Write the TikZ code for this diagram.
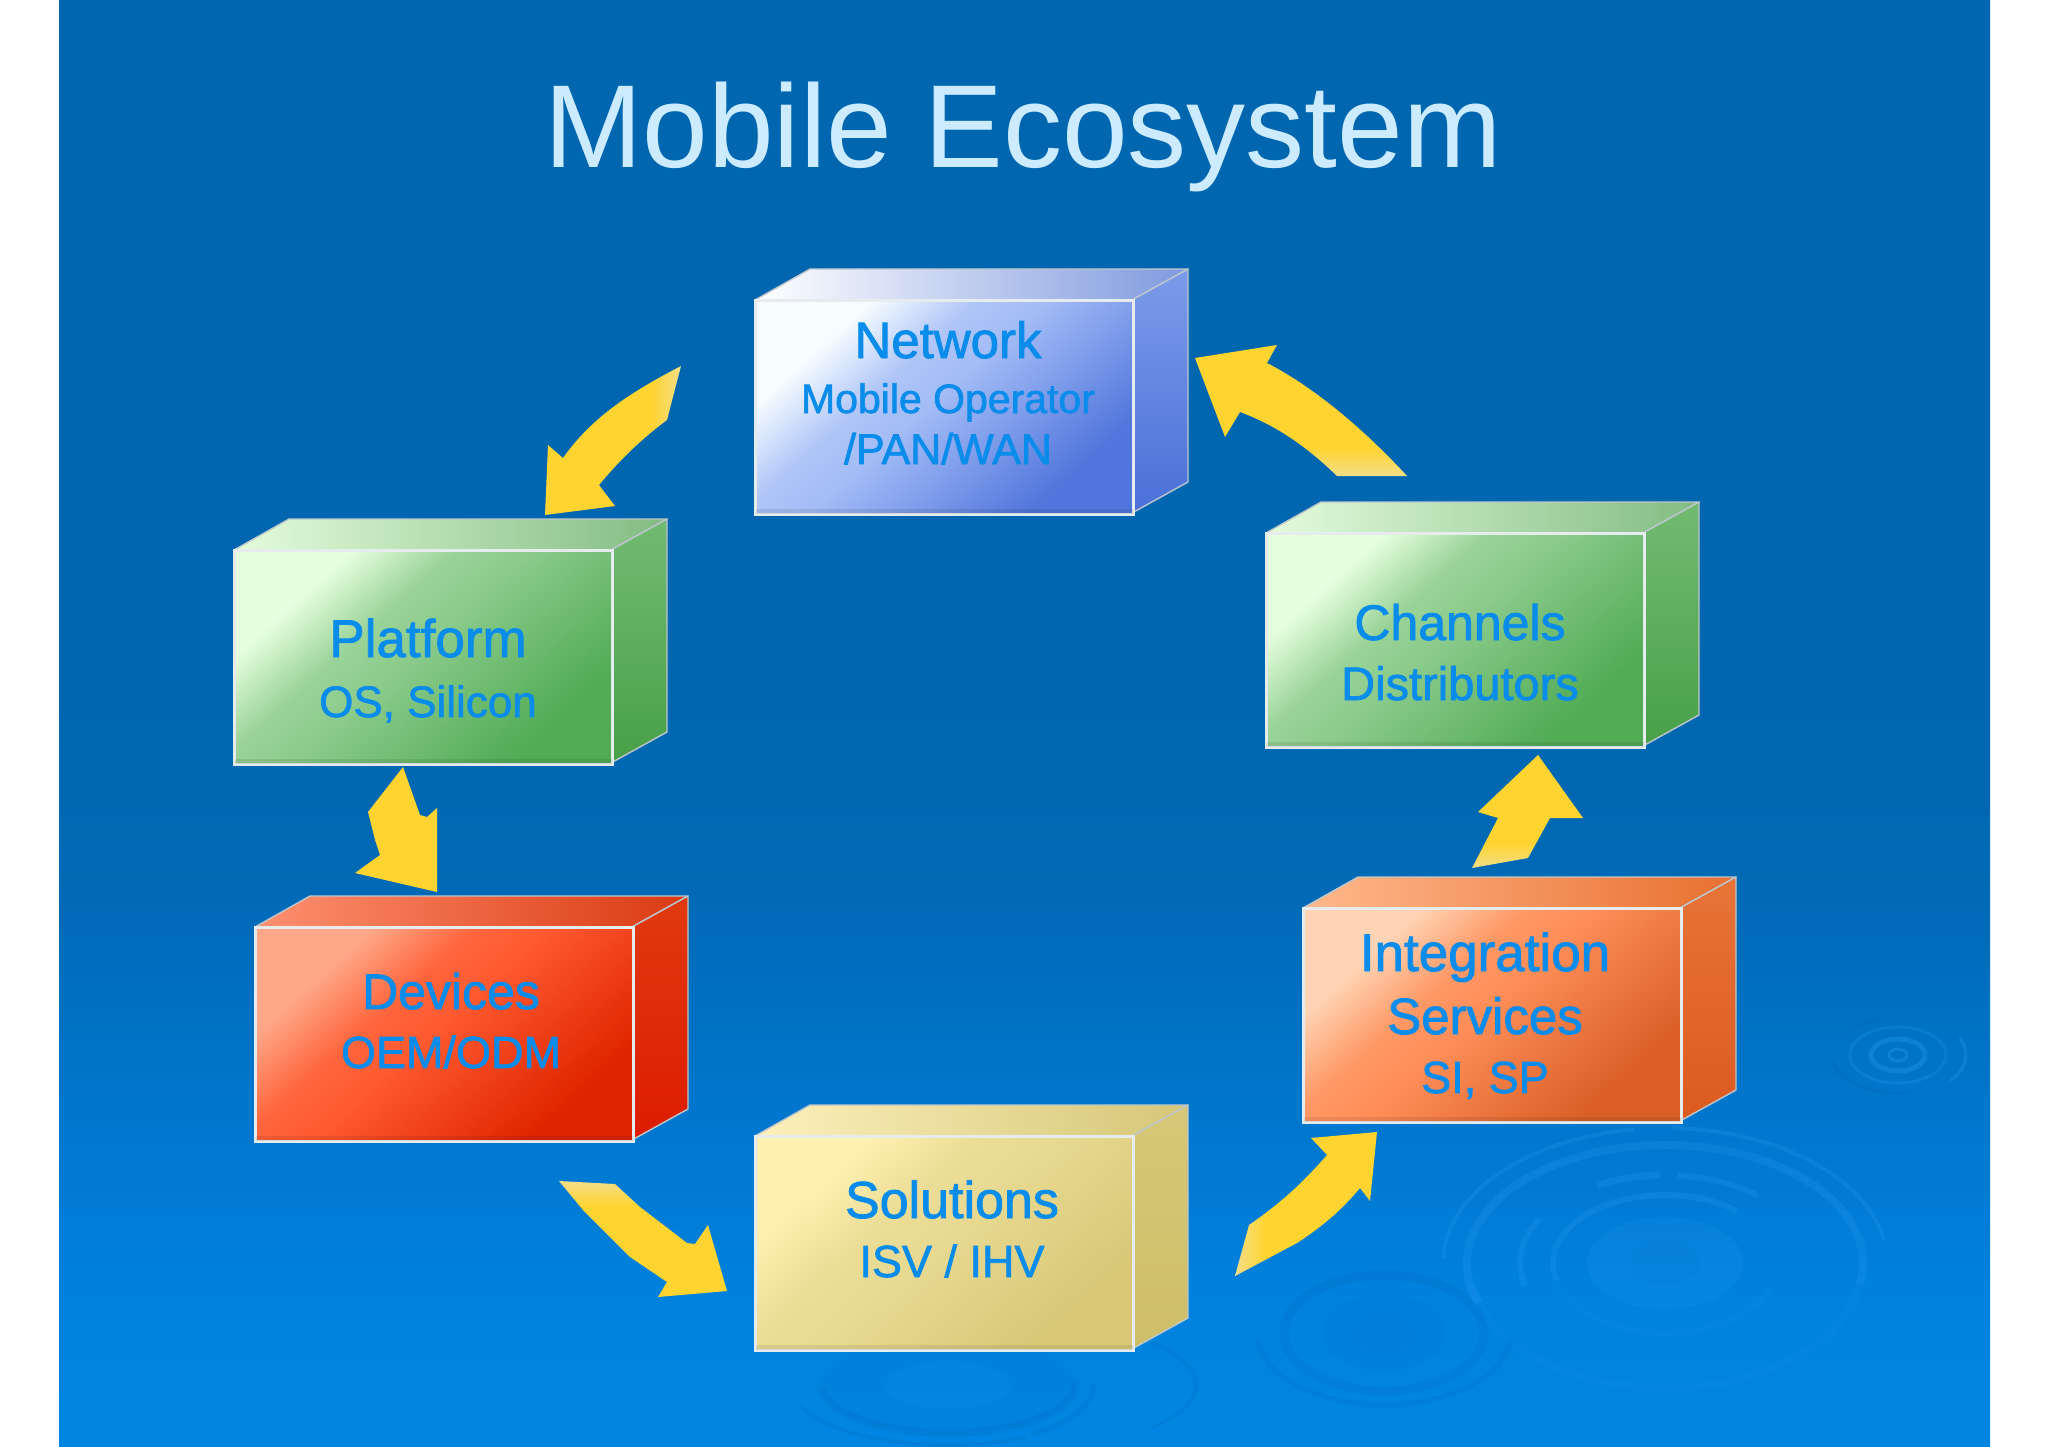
\documentclass[tikz,border=0pt]{standalone}
\usepackage{fontspec}
\setmainfont{Liberation Sans}
\newfontfamily\boxfont[FakeBold=1.6]{Liberation Sans}
\definecolor{net1}{HTML}{F6FCFF}\definecolor{net2}{HTML}{A3BCF6}\definecolor{net3}{HTML}{5277DC}
\definecolor{net4}{HTML}{FFFFFF}\definecolor{net5}{HTML}{B2C6F6}\definecolor{net6}{HTML}{7F9ADF}
\definecolor{net7}{HTML}{7C9BEA}\definecolor{net8}{HTML}{4A70D8}
\definecolor{grn1}{HTML}{E6FFDE}\definecolor{grn2}{HTML}{8CCB8C}\definecolor{grn3}{HTML}{52AC56}
\definecolor{grn4}{HTML}{E4FCDC}\definecolor{grn5}{HTML}{A0D09C}\definecolor{grn6}{HTML}{82BC82}
\definecolor{grn7}{HTML}{72BB72}\definecolor{grn8}{HTML}{48A048}
\definecolor{red1}{HTML}{FFA888}\definecolor{red2}{HTML}{FF5A30}\definecolor{red3}{HTML}{DF2500}
\definecolor{red4}{HTML}{FF9070}\definecolor{red5}{HTML}{F86038}\definecolor{red6}{HTML}{D93A12}
\definecolor{red7}{HTML}{E03A10}\definecolor{red8}{HTML}{DD1C00}
\definecolor{org1}{HTML}{FFD4B4}\definecolor{org2}{HTML}{FF8E58}\definecolor{org3}{HTML}{DA6028}
\definecolor{org4}{HTML}{FFB88C}\definecolor{org5}{HTML}{FF9460}\definecolor{org6}{HTML}{E87030}
\definecolor{org7}{HTML}{E87438}\definecolor{org8}{HTML}{DC5A20}
\definecolor{yel1}{HTML}{FFF0B0}\definecolor{yel2}{HTML}{E8DA92}\definecolor{yel3}{HTML}{D8C878}
\definecolor{yel4}{HTML}{FCF0BC}\definecolor{yel5}{HTML}{E8DA98}\definecolor{yel6}{HTML}{D6C678}
\definecolor{yel7}{HTML}{D6C878}\definecolor{yel8}{HTML}{CEBE68}
\definecolor{inktext}{HTML}{0A8CEB}
\definecolor{titletext}{HTML}{CCEBFF}
\definecolor{edgepale}{HTML}{E6ECEE}
\definecolor{edgegrey}{HTML}{BCC6CC}
\definecolor{gold}{HTML}{FFD430}
\definecolor{paleGold}{HTML}{F3DE86}
\definecolor{ringlight}{HTML}{2A9CF0}
\definecolor{ringdark}{HTML}{0060B0}
\definecolor{bgA}{HTML}{0066B0}\definecolor{bgB}{HTML}{006AB6}\definecolor{bgC}{HTML}{0076CC}
\definecolor{bgD}{HTML}{0082DE}\definecolor{bgE}{HTML}{0086E2}
\pgfdeclareverticalshading{bgfade}{100bp}{color(0bp)=(bgE); color(25bp)=(bgE); color(30bp)=(bgD); color(37bp)=(bgC); color(44bp)=(bgB); color(51bp)=(bgA); color(100bp)=(bgA)}
\pgfdeclareverticalshading{arrowfade}{100bp}{color(0bp)=(paleGold); color(25bp)=(paleGold); color(36bp)=(gold); color(100bp)=(gold)}
\newcommand{\facefade}[1]{\pgfdeclareverticalshading{#1face}{100bp}{color(0bp)=(#13); color(27bp)=(#13); color(52bp)=(#12); color(60bp)=(#12!85!#11); color(72bp)=(#11); color(100bp)=(#11)}}
\facefade{net}\facefade{grn}\facefade{red}\facefade{org}\facefade{yel}
\tikzset{
  x=1pt,y=-1pt,
  frontface/.style={anchor=north west,inner sep=0pt,minimum width=378pt,minimum height=213pt,draw=edgepale,line width=2pt},
  rimface/.style={draw=edgegrey,line width=1.4pt,line join=round},
  sz/.style={anchor=base,text=inktext,inner sep=0pt,font=\boxfont\fontsize{#1}{#1}\selectfont},
  blockarrow/.style={shading=arrowfade,draw=none},
  ringup/.style={draw=ringlight,draw opacity=0.24},
  ringdown/.style={draw=ringdark,draw opacity=0.16},
}
% name, left, top, colour family
\newcommand{\cuboid}[4]{%
  \coordinate (#1nw) at (#2,#3);
  \shade[rimface,left color=#44,middle color=#45,right color=#46]
    (#1nw) -- ++(55,-31) -- ++(378,0) -- ++(-56,31) -- cycle;
  \shade[rimface,top color=#47,bottom color=#48]
    (#1nw)++(377,0) -- ++(56,-31) -- ++(0,213) -- ++(-56,31) -- cycle;
  \node[frontface,minimum width=377pt,shading=#4face,shading angle=42] (#1) at (#1nw) {};
  \fill[black,opacity=0.08] ($(#1.south west)+(1,-6)$) rectangle ($(#1.south east)+(-1,-1)$);
  \draw[edgepale,line width=2pt] (#1.south west) rectangle (#1.north east);
}
% rx, ry, from, to (in a scope where y runs upward)
\newcommand{\ringarc}[5]{\draw[#1] ({#2*cos(#4)},{#3*sin(#4)}) arc (#4:#5:#2 and #3);}
\usetikzlibrary{calc}
\begin{document}
\begin{tikzpicture}
\useasboundingbox (0,0) rectangle (2048,1447);
\fill[white] (0,0) rectangle (2048,1447);
\shade[shading=bgfade] (59,0) rectangle (1990,1447);
\begin{scope}
\clip (59,0) rectangle (1990,1447);
% large ripple
\begin{scope}[shift={(1665,1263)},yscale=-1]
\ringarc{ringup,line width=4pt}{222}{135}{178}{98}
\ringarc{ringup,line width=4pt}{222}{135}{88}{10}
\ringarc{ringup,line width=8pt}{198}{118}{200}{-10}
\ringarc{ringup,line width=7pt}{145}{88}{118}{92}
\ringarc{ringup,line width=6pt}{145}{88}{85}{50}
\ringarc{ringup,line width=6pt}{145}{88}{195}{150}
\ringarc{ringup,line width=6pt}{112}{68}{195}{50}
\fill[fill=ringlight,fill opacity=0.16] (0,0) ellipse (78 and 46);
\fill[fill=ringdark,fill opacity=0.05] (0,0) ellipse (35 and 22);
\ringarc{draw=ringlight,draw opacity=0.08,line width=8pt}{198}{125}{-10}{-170}
\ringarc{draw=ringlight,draw opacity=0.08,line width=6pt}{112}{70}{-20}{-160}
\end{scope}
% lower ripple
\begin{scope}[shift={(1384,1333)},yscale=-1]
\ringarc{ringdown,line width=5pt}{127}{72}{-175}{-5}
\ringarc{ringdown,line width=9pt}{100}{58}{0}{360}
\fill[ringdark,fill opacity=0.06] (0,0) ellipse (62 and 38);
\fill[ringdark,fill opacity=0.06] (0,0) ellipse (30 and 18);
\end{scope}
% upper right ripple
\begin{scope}[shift={(1898,1055)},yscale=-1]
\ringarc{draw=ringdark,draw opacity=0.25,line width=3pt}{66}{38}{190}{280}
\ringarc{draw=ringdark,draw opacity=0.18,line width=2pt}{62}{37}{150}{105}
\ringarc{draw=ringlight,draw opacity=0.30,line width=3pt}{68}{40}{25}{-40}
\ringarc{draw=ringlight,draw opacity=0.24,line width=3pt}{48}{28}{0}{360}
\ringarc{draw=ringlight,draw opacity=0.35,line width=5pt}{27}{16}{0}{360}
\ringarc{draw=ringlight,draw opacity=0.35,line width=3pt}{9}{6}{0}{360}
\end{scope}
% ripple under the yellow box
\begin{scope}[shift={(948,1385)},yscale=-1]
\fill[ringdark,fill opacity=0.08] (0,0) ellipse (127 and 48);
\fill[ringlight,fill opacity=0.14] (0,0) ellipse (62 and 24);
\ringarc{ringdown,line width=8pt}{127}{48}{185}{365}
\ringarc{ringdown,line width=4pt}{158}{60}{200}{300}
\ringarc{ringdown,line width=5pt}{146}{60}{0}{-55}
\ringarc{ringdown,line width=4pt}{248}{75}{35}{-35}
\end{scope}
\end{scope}
\node[anchor=base,text=titletext,inner sep=0pt,font=\fontsize{118}{118}\selectfont] (title) at (1023,168) {Mobile Ecosystem};
\cuboid{network}{755}{300}{net}
\cuboid{platform}{234}{550}{grn}
\cuboid{channels}{1266}{533}{grn}
\cuboid{devices}{255}{927}{red}
\cuboid{integration}{1303}{908}{org}
\cuboid{solutions}{755}{1136}{yel}
\node[sz=51] (l1) at (948,358) {Network};
\node[sz=41] (l2) at (948,413) {Mobile Operator};
\node[sz=43] (l3) at (948,464) {/PAN/WAN};
\node[sz=53] (l4) at (428,657) {Platform};
\node[sz=44] (l5) at (428,717) {OS, Silicon};
\node[sz=50] (l6) at (1460,640) {Channels};
\node[sz=47] (l7) at (1460,700) {Distributors};
\node[sz=50] (l8) at (451,1009) {Devices};
\node[sz=45] (l9) at (451,1068) {OEM/ODM};
\node[sz=53] (l10) at (1485,971) {Integration};
\node[sz=51] (l11) at (1485,1034) {Services};
\node[sz=45] (l12) at (1485,1093) {SI, SP};
\node[sz=52] (l13) at (952,1218) {Solutions};
\node[sz=45] (l14) at (952,1277) {ISV / IHV};
% block arrows
\shade[blockarrow,shading angle=90]
  (681,366) -- (667,420) .. controls (640,440) and (618,462) .. (599,485) -- (615,506) -- (545,515) -- (548,445) -- (563,458) .. controls (590,420) and (625,395) .. (681,366) -- cycle;
\shade[blockarrow,shading=axis,top color=gold,bottom color=gold]
  (403,767) -- (420,815) -- (427,817) -- (437,808) -- (437,892) -- (355,873) -- (380,855) -- (375,840) -- (368,812) -- cycle;
\shade[blockarrow,shading angle=180]
  (559,1181) -- (615,1184) -- (640,1207) -- (687,1243) -- (695,1244) -- (708,1225) -- (727,1291) -- (658,1297) -- (667,1282) -- (630,1257) -- (583,1210) -- cycle;
\shade[blockarrow,shading angle=-90]
  (1235,1276) -- (1249,1225) .. controls (1285,1200) and (1305,1180) .. (1327,1155) -- (1311,1138) -- (1377,1132) -- (1370,1201) -- (1360,1188) .. controls (1340,1212) and (1320,1228) .. (1297,1243) -- cycle;
\shade[blockarrow,shading angle=0]
  (1538,755) -- (1583,818) -- (1550,818) -- (1528,858) -- (1472,868) -- (1498,818) -- (1478,812) -- cycle;
\shade[blockarrow,shading angle=0]
  (1195,358) -- (1277,345) -- (1267,363) .. controls (1310,385) and (1360,425) .. (1407,476) -- (1337,476) .. controls (1305,445) and (1275,425) .. (1240,412) -- (1225,437) -- cycle;
\end{tikzpicture}
\end{document}
